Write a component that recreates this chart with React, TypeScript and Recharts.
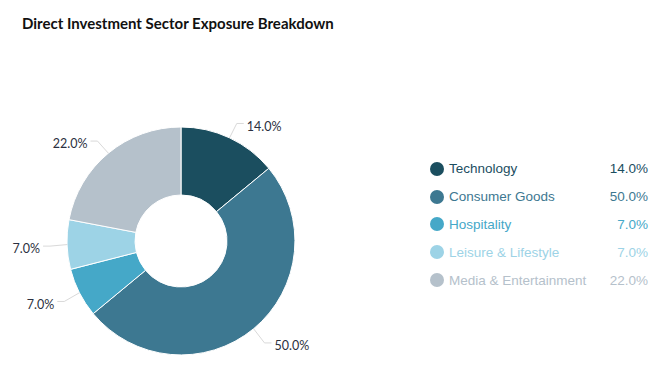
import { Legend, Pie, PieChart, Cell } from "recharts";

const sectors = [
  "Technology",
  "Consumer Goods",
  "Hospitality",
  "Leisure & Lifestyle",
  "Media & Entertainment",
];
const shares = [14.0, 50.0, 7.0, 7.0, 22.0];

const COLORS = ["#1b4e5f", "#3d7891", "#45a8c8", "#9dd3e6", "#b5c1cb"];

const rows = sectors.map((name, i) => ({ name, value: shares[i] }));

const RAD = Math.PI / 180;

type LabelProps = {
  cx: number;
  cy: number;
  midAngle: number;
  outerRadius: number;
  index: number;
  value: number;
};

function SliceLabel({ cx, cy, midAngle, outerRadius, value }: LabelProps) {
  const cos = Math.cos(-midAngle * RAD);
  const sin = Math.sin(-midAngle * RAD);
  const sx = cx + outerRadius * cos;
  const sy = cy + outerRadius * sin;
  const ex = cx + (outerRadius + 17) * cos;
  const ey = cy + (outerRadius + 17) * sin + 1;
  const right = cos >= 0;
  const hx = ex + (right ? 7 : -7);
  return (
    <g>
      <polyline
        points={`${sx},${sy} ${ex},${ey} ${hx},${ey}`}
        fill="none"
        stroke="#d9d9d9"
        strokeWidth={1}
      />
      <text
        x={hx + (right ? 3 : -3)}
        y={ey + 4}
        textAnchor={right ? "start" : "end"}
        dominantBaseline="middle"
        fontFamily="Lato, sans-serif"
        fontSize={12.5}
        fill="#2b3040"
      >
        {value.toFixed(1)}%
      </text>
    </g>
  );
}

function SectorLegend() {
  return (
    <div style={{ fontFamily: "'Liberation Sans', Arial, sans-serif", fontSize: 13.5 }}>
      {rows.map((r, i) => (
        <div
          key={r.name}
          style={{
            display: "flex",
            alignItems: "center",
            height: 27.8,
            color: COLORS[i],
          }}
        >
          <span
            style={{
              width: 14,
              height: 14,
              borderRadius: 7,
              background: COLORS[i],
              marginRight: 5,
              flex: "none",
            }}
          />
          <span style={{ flex: 1 }}>{r.name}</span>
          <span>{r.value.toFixed(1)}%</span>
        </div>
      ))}
    </div>
  );
}

export default function App() {
  return (
    <div
      style={{
        position: "absolute",
        left: 0,
        top: 0,
        width: 662,
        height: 381,
        background: "#fff",
      }}
    >
      <div
        style={{
          position: "absolute",
          left: 22,
          top: 14,
          fontFamily: "Lato, sans-serif",
          fontWeight: 700,
          fontSize: 15,
          color: "#111",
          zIndex: 2,
        }}
      >
        Direct Investment Sector Exposure Breakdown
      </div>
      <PieChart width={662} height={381} margin={{ top: 0, right: 0, bottom: 0, left: 0 }}>
        <Pie
          data={rows}
          dataKey="value"
          nameKey="name"
          cx={181}
          cy={241}
          innerRadius={46}
          outerRadius={114}
          startAngle={90}
          endAngle={-270}
          stroke="#ffffff"
          strokeWidth={1}
          label={SliceLabel}
          labelLine={false}
          isAnimationActive={false}
        >
          {rows.map((r, i) => (
            <Cell key={r.name} fill={COLORS[i]} />
          ))}
        </Pie>
        <Legend
          content={<SectorLegend />}
          wrapperStyle={{ position: "absolute", left: 430, top: 155, width: 218, bottom: "auto" }}
        />
      </PieChart>
    </div>
  );
}
